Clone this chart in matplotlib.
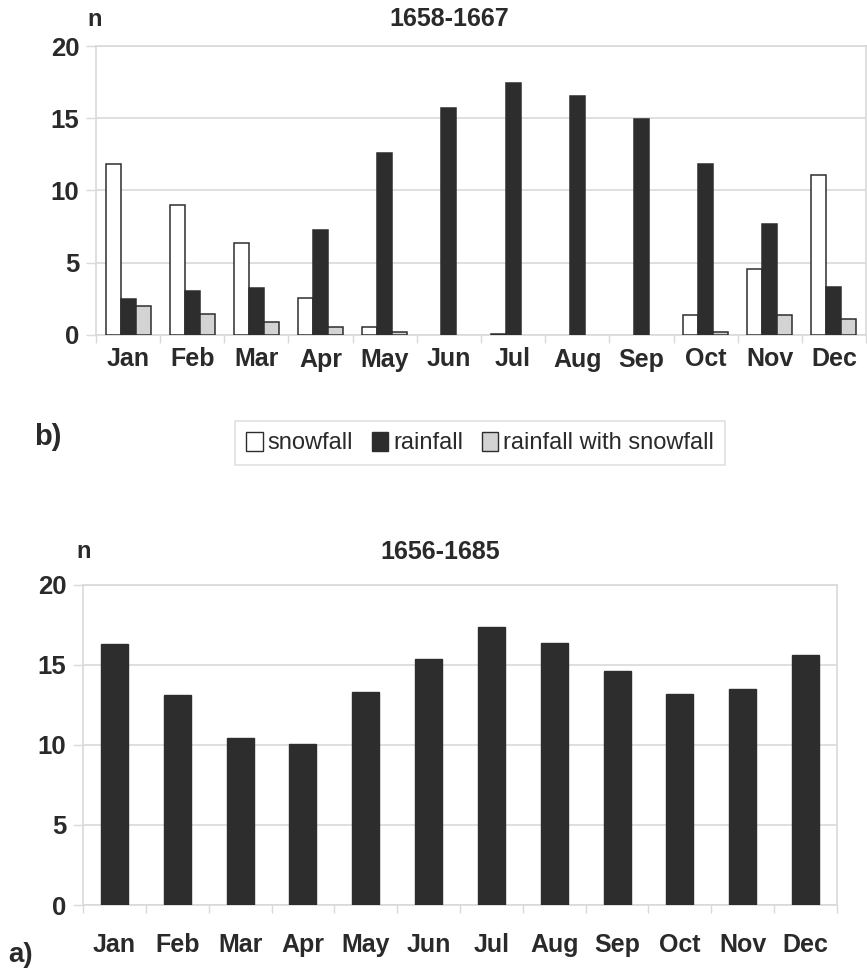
import numpy as np
import matplotlib
matplotlib.use("Agg")
import matplotlib.pyplot as plt
from matplotlib.patches import Patch

plt.rcParams['font.family'] = ['Liberation Sans', 'DejaVu Sans']

months = ["Jan", "Feb", "Mar", "Apr", "May", "Jun",
          "Jul", "Aug", "Sep", "Oct", "Nov", "Dec"]

# 1658-1667: days with precipitation by type
snowfall = [11.8, 9.0, 6.4, 2.55, 0.55, 0.0, 0.1, 0.0, 0.0, 1.35, 4.6, 11.1]
rainfall = [2.5, 3.05, 3.25, 7.25, 12.6, 15.7, 17.45, 16.55, 14.95, 11.85, 7.65, 3.3]
rain_snow = [2.0, 1.45, 0.9, 0.55, 0.22, 0.0, 0.0, 0.0, 0.0, 0.22, 1.35, 1.1]

# 1656-1685: all precipitation days
total = [16.3, 13.1, 10.45, 10.05, 13.3, 15.4, 17.4, 16.4, 14.6, 13.2, 13.5, 15.6]

series_names = ["snowfall", "rainfall", "rainfall with snowfall"]
y_ticks = [0, 5, 10, 15, 20]

W, H = 867, 971
fig = plt.figure(figsize=(W / 100, H / 100), dpi=100)

TXT = "#2a2a2a"
DARK = "#2d2d2d"
LIGHT = "#d3d3d3"
GRID = "#d9d9d9"


def fax(left, top, right, bottom):
    return fig.add_axes([left / W, 1 - bottom / H, (right - left) / W, (bottom - top) / H])


def style(ax, pad_x):
    x = np.arange(len(months))
    ax.set_xlim(-0.5, len(months) - 0.5)
    ax.set_ylim(0, 20)
    ax.set_yticks(y_ticks)
    ax.set_yticklabels([str(v) for v in y_ticks], fontsize=18.5, fontweight="bold", color=TXT)
    ax.set_xticks(x)
    ax.set_xticklabels(months, fontsize=18, fontweight="bold", color=TXT)
    ax.set_xticks(np.arange(-0.5, len(months), 1.0), minor=True)
    ax.tick_params(axis="x", which="major", length=0, pad=pad_x)
    ax.tick_params(axis="x", which="minor", length=6, color=GRID, width=1)
    ax.tick_params(axis="y", length=7, color=GRID, width=1, pad=5)
    ax.yaxis.grid(True, color=GRID, linewidth=1.2)
    ax.set_axisbelow(True)
    for s in ax.spines.values():
        s.set_color(GRID)
        s.set_linewidth(1.2)


def bars(ax, pos, vals, width, face, lw):
    # zero counts get no outline so they stay invisible
    vals = np.asarray(vals, dtype=float)
    keep = vals > 0
    ax.bar(pos[keep], vals[keep], width, color=face, edgecolor=DARK,
           linewidth=lw, zorder=3)


# ---- panel b: 1658-1667 ----
axb = fax(96, 46, 866, 335)
x = np.arange(len(months))
bw = 0.233
bars(axb, x - bw, snowfall, bw, "white", 1.1)
bars(axb, x, rainfall, bw, DARK, 1.1)
bars(axb, x + bw, rain_snow, bw, LIGHT, 1.1)
style(axb, pad_x=9)

fig.text(95 / W, 1 - 20 / H, "n", fontsize=17, fontweight="bold", color=TXT,
         ha="center", va="center")
fig.text(449 / W, 1 - 19 / H, "1658-1667", fontsize=18, fontweight="bold", color=TXT,
         ha="center", va="center")
fig.text(48 / W, 1 - 437 / H, "b)", fontsize=21, fontweight="bold", color=TXT,
         ha="center", va="center")

handles = [Patch(facecolor="white", edgecolor=DARK, linewidth=1.0),
           Patch(facecolor=DARK, edgecolor=DARK, linewidth=1.0),
           Patch(facecolor=LIGHT, edgecolor=DARK, linewidth=1.0)]
leg = fig.legend(handles, series_names, loc="center", ncol=3,
                 bbox_to_anchor=(480 / W, 1 - 443 / H),
                 fontsize=17, frameon=True, fancybox=False,
                 handlelength=0.7, handleheight=0.9, handletextpad=0.2,
                 columnspacing=0.8, borderpad=0.45, labelcolor=TXT)
leg.get_frame().set_edgecolor(GRID)
leg.get_frame().set_linewidth(1.2)

# ---- panel a: 1656-1685 ----
axa = fax(83, 585, 837, 905)
bars(axa, x, total, 0.43, DARK, 1.0)
style(axa, pad_x=20)

fig.text(84 / W, 1 - 552 / H, "n", fontsize=17, fontweight="bold", color=TXT,
         ha="center", va="center")
fig.text(440 / W, 1 - 552 / H, "1656-1685", fontsize=18, fontweight="bold", color=TXT,
         ha="center", va="center")
fig.text(21 / W, 1 - 955 / H, "a)", fontsize=20, fontweight="bold", color=TXT,
         ha="center", va="center")

fig.savefig("out.png", dpi=100, facecolor="white")
